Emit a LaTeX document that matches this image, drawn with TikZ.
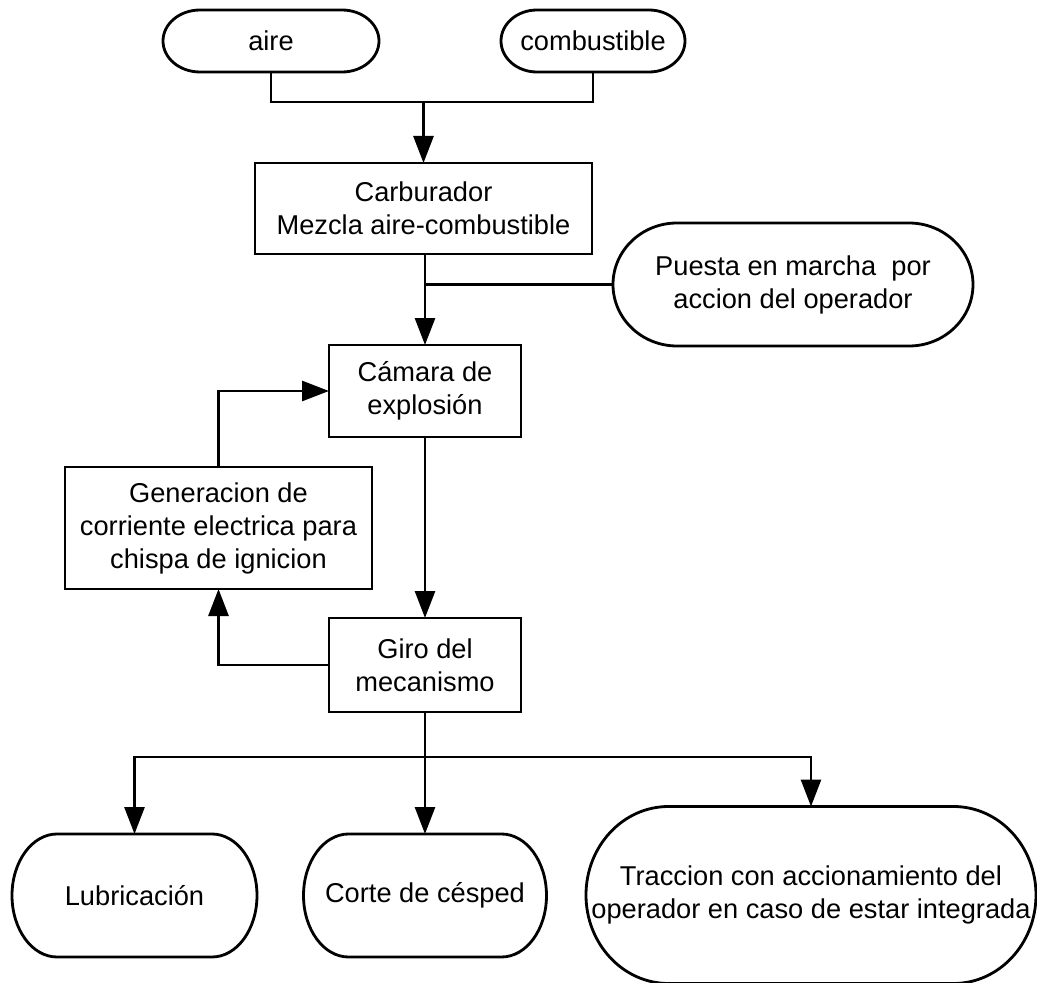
\documentclass[tikz,border=0pt]{standalone}
\usepackage{fontspec}
\setmainfont{Liberation Sans}
\usetikzlibrary{arrows.meta, positioning}

% outline of a start/end node: flat top and bottom, half-elliptic ends
\newcommand{\termoutline}[3]{%
  \draw ([xshift=#2]#1.north west) -- ([xshift=-#2]#1.north east)
    arc[start angle=90, end angle=-90, x radius=#2, y radius=#3]
    -- ([xshift=#2]#1.south west)
    arc[start angle=270, end angle=90, x radius=#2, y radius=#3] -- cycle;}

\tikzset{
  box/.style={draw, align=center, inner sep=2pt, outer sep=0pt,
    font=\fontsize{15.5}{18.8}\selectfont},
  term/.style={box, draw=none},
  arr/.style={-{Triangle[length=0.54cm, width=0.4cm]}},
}

\begin{document}
\begin{tikzpicture}[line width=1.6pt]
  \useasboundingbox (0,0) rectangle (20.74,-19.66);

  % inputs
  \node[term, minimum width=4.32cm, minimum height=1.24cm] (aire) at (5.42,-0.82) {aire};
  \node[term, minimum width=3.68cm, minimum height=1.24cm] (comb) at (11.86,-0.82) {combustible};
  \termoutline{aire}{0.74cm}{0.62cm}
  \termoutline{comb}{0.72cm}{0.62cm}

  \node[box, minimum width=6.74cm, minimum height=1.82cm] (carb) at (8.47,-4.17)
    {Carburador\\Mezcla aire-combustible};
  \node[term, minimum width=7.2cm, minimum height=2.46cm] (puesta) at (15.86,-5.69)
    {Puesta en marcha\ \ por\\accion del operador};
  \termoutline{puesta}{1.28cm}{1.23cm}

  \node[box, minimum width=3.84cm, minimum height=1.84cm] (cam) at (8.5,-7.82)
    {Cámara de\\explosión};
  \node[box, minimum width=6.14cm, minimum height=2.44cm] (gen) at (4.37,-10.56)
    {Generacion de\\corriente electrica para\\chispa de ignicion};
  \node[box, minimum width=3.84cm, minimum height=1.88cm] (giro) at (8.5,-13.3)
    {Giro del\\mecanismo};

  % outputs
  \node[term, minimum width=4.9cm, minimum height=2.46cm] (lub) at (2.69,-17.91) {Lubricación};
  \node[term, minimum width=4.86cm, minimum height=2.46cm] (corte) at (8.5,-17.91) {Corte de césped};
  \node[term, minimum width=9.0cm, minimum height=3.54cm] (trac) at (16.22,-17.9)
    {Traccion con accionamiento del\\operador en caso de estar integrada};
  \termoutline{lub}{0.9cm}{1.23cm}
  \termoutline{corte}{0.9cm}{1.23cm}
  \termoutline{trac}{1.65cm}{1.77cm}

  % connectors
  \coordinate (mix) at (8.47,-2.04);
  \draw (aire.south) |- (mix) -| (comb.south);
  \draw[arr] (mix) -- (carb.north);
  \draw[arr] (carb.south -| cam.north) -- (cam.north);
  \draw (puesta.west) -- (puesta.west -| cam.north);
  \draw[arr] (cam.south) -- (giro.north);
  \draw[arr] (giro.west) -| (gen.south);
  \draw[arr] (gen.north) |- (cam.west);
  \coordinate (split) at (8.5,-15.14);
  \draw (giro.south) -- (split);
  \draw[arr] (split) -| (lub.north);
  \draw[arr] (split) -- (corte.north);
  \draw[arr] (split) -| (trac.north);
\end{tikzpicture}
\end{document}
